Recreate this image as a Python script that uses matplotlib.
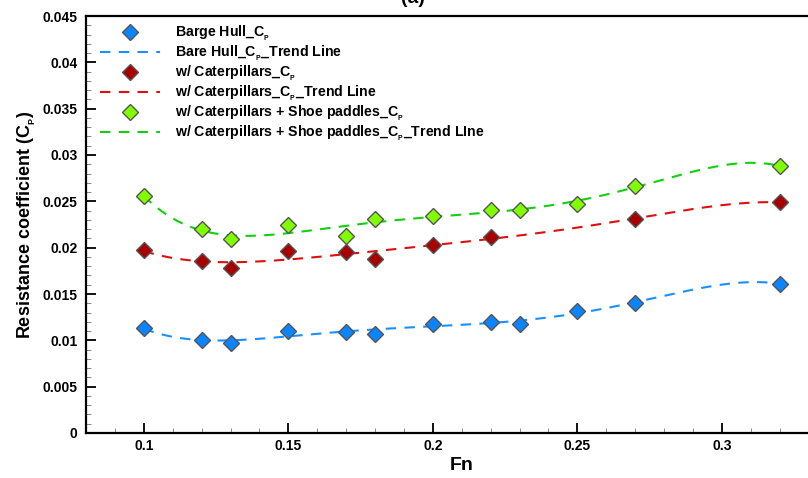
import numpy as np
import matplotlib
matplotlib.use("Agg")
import matplotlib.pyplot as plt
from matplotlib.ticker import MultipleLocator, FuncFormatter

plt.rcParams['font.family'] = ['Liberation Sans', 'DejaVu Sans']
plt.rcParams['font.weight'] = 'bold'
plt.rcParams['mathtext.fontset'] = 'custom'
plt.rcParams['mathtext.rm'] = 'Liberation Sans:bold'
plt.rcParams['mathtext.bf'] = 'Liberation Sans:bold'
plt.rcParams['mathtext.it'] = 'Liberation Sans:bold'
plt.rcParams['mathtext.default'] = 'bf'

fn_bare = [0.10, 0.12, 0.13, 0.15, 0.17, 0.18, 0.20, 0.22, 0.23, 0.25, 0.27, 0.32]
cp_bare = [0.0113, 0.0100, 0.0097, 0.0110, 0.0109, 0.0107, 0.0118, 0.0120, 0.0118, 0.0132, 0.0140, 0.0161]

fn_cat = [0.10, 0.12, 0.13, 0.15, 0.17, 0.18, 0.20, 0.22, 0.27, 0.32]
cp_cat = [0.0197, 0.0186, 0.0178, 0.0196, 0.0195, 0.0188, 0.0203, 0.0212, 0.0231, 0.0249]

fn_shoe = [0.10, 0.12, 0.13, 0.15, 0.17, 0.18, 0.20, 0.22, 0.23, 0.25, 0.27, 0.32]
cp_shoe = [0.0256, 0.0220, 0.0209, 0.0224, 0.0213, 0.0231, 0.0234, 0.0241, 0.0241, 0.0247, 0.0267, 0.0288]

SUB = r"$_{{}_{P}}$"
labels = ["Barge Hull_C" + SUB, "Bare Hull_C" + SUB + "_Trend Line",
          "w/ Caterpillars_C" + SUB, "w/ Caterpillars_C" + SUB + "_Trend Line",
          "w/ Caterpillars + Shoe paddles_C" + SUB,
          "w/ Caterpillars + Shoe paddles_C" + SUB + "_Trend LIne"]

fig = plt.figure(figsize=(8.08, 4.78), dpi=100)
ax = fig.add_axes([86/808, 1-433/478, (837.5-86)/808, (433-16)/478])

series = [
    (fn_bare, cp_bare, '#0a84ff', '#1a90ff'),
    (fn_cat, cp_cat, '#a80000', '#dd1010'),
    (fn_shoe, cp_shoe, '#80ff00', '#10d010'),
]
handles = []
for i, (x, y, fc, lc) in enumerate(series):
    coef = np.polyfit(x, y, 5)
    xs = np.linspace(min(x), max(x), 300)
    ln, = ax.plot(xs, np.polyval(coef, xs), color=lc, lw=1.5, dashes=(5, 4), zorder=2)
    mk, = ax.plot(x, y, ls='none', marker='D', ms=8.5, mfc=fc, mec='#555555', mew=1.0, zorder=3)
    handles += [mk, ln]

ax.set_xlim(0.08, 0.34)
ax.set_ylim(0, 0.045)
ax.xaxis.set_major_locator(MultipleLocator(0.05))
ax.xaxis.set_minor_locator(MultipleLocator(0.01))
ax.yaxis.set_major_locator(MultipleLocator(0.005))
ax.yaxis.set_minor_locator(MultipleLocator(0.001))
fmt = FuncFormatter(lambda v, p: ('%g' % round(v, 4)))
ax.xaxis.set_major_formatter(fmt)
ax.yaxis.set_major_formatter(fmt)
ax.tick_params(which='major', direction='in', length=7, width=1.3, labelsize=10)
ax.tick_params(axis='x', which='major', pad=4.5)
ax.tick_params(axis='y', which='major', pad=6)
ax.tick_params(which='minor', direction='in', length=3.5, width=0.7, color='#888888')
ax.tick_params(top=False, right=False, which='both')
for s in ax.spines.values():
    s.set_linewidth(1.6)

ax.set_xlabel("Fn", fontsize=14, fontweight='bold', labelpad=3)
ax.set_ylabel("Resistance coefficient (C" + SUB + ")", fontsize=13, fontweight='bold', labelpad=3)

ax.legend(handles, labels, loc='upper left', frameon=False, fontsize=10.2,
          handlelength=4.24, handletextpad=1.06, labelspacing=0.07,
          bbox_to_anchor=(14/751.5, 0.981), borderaxespad=0.0, borderpad=0.0)

fig.text(0.511, 1.003, "(a)", ha='center', va='center', fontsize=14, fontweight='bold')

fig.savefig("out.png", dpi=100)
